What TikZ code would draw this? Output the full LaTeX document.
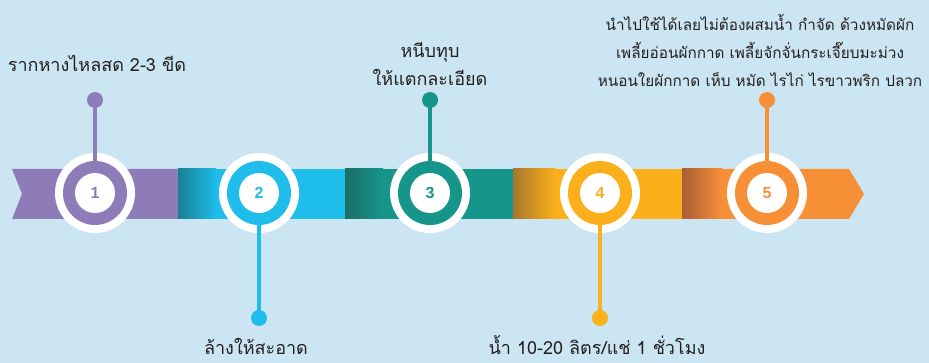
\documentclass[tikz,border=0pt]{standalone}
\usepackage{fontspec}
\newfontfamily\thaifont[Script=Thai]{Loma}
\newfontfamily\numfont{Liberation Sans}
\definecolor{bg}{HTML}{CBE6F2}
\definecolor{cpur}{HTML}{8E7CB9}
\definecolor{cblu}{HTML}{1EBDEB}
\definecolor{cblud}{HTML}{1A7F93}
\definecolor{cteal}{HTML}{16958B}
\definecolor{ctealD}{HTML}{1C6E66}
\definecolor{cgold}{HTML}{FAAF1B}
\definecolor{cgoldD}{HTML}{A8772C}
\definecolor{corg}{HTML}{F78F37}
\definecolor{corgD}{HTML}{A85E36}
\definecolor{txt}{HTML}{231F20}
\tikzset{
  lbl/.style={text=txt, align=center, font=\thaifont\fontsize{18}{28}\selectfont, inner sep=0pt},
  lblsm/.style={text=txt, align=center, font=\thaifont\fontsize{15.3}{28}\selectfont, inner sep=0pt},
  dotn/.style={circle, fill=#1, minimum size=16pt, inner sep=0pt},
  stem/.style={line width=4.5pt, draw=#1},
  numn/.style={circle, fill=white, minimum size=40pt, inner sep=0pt, text=#1, font=\numfont\bfseries\fontsize{16}{16}\selectfont},
}
\begin{document}
\begin{tikzpicture}[x=1pt,y=-1pt]
\fill[bg] (0,0) rectangle (929,363);
\useasboundingbox (0,0) rectangle (929,363);
% band
\fill[cpur] (12,169) -- (178,169) -- (178,219) -- (12,219) -- (22,194) -- cycle;
\shade[left color=cblud, right color=cblu] (178,169) rectangle (216,219);
\fill[cblu] (215.5,169) rectangle (345,219);
\shade[left color=ctealD, right color=cteal] (345,169) rectangle (383,219);
\fill[cteal] (382.5,169) rectangle (513,219);
\shade[left color=cgoldD, right color=cgold] (513,169) rectangle (555,219);
\fill[cgold] (554.5,169) rectangle (682,219);
\shade[left color=corgD, right color=corg] (682,169) rectangle (722,219);
\fill[corg] (721.5,169) -- (849,169) -- (864,194) -- (849,219) -- (721.5,219) -- cycle;
% steps
\foreach \i/\x/\col/\dy in {1/95/cpur/100, 2/259/cblu/318, 3/430/cteal/100, 4/600/cgold/318, 5/767/corg/100}{
  \fill[white] (\x,193) circle (40);
  \node[dotn=\col] (d\i) at (\x,\dy) {};
  \coordinate (m\i) at (\x,193);
  \draw[stem=\col] (d\i.center) -- (m\i);
  \fill[\col] (\x,193) circle (32);
  \node[numn=\col] (c\i) at (\x,193) {\i};
}
% labels
\node[lbl] (t1) at (97,63) {รากหางไหลสด 2-3 ขีด};
\node[lbl] (t2) at (256,346) {ล้างให้สะอาด};
\node[lbl] (t3) at (430,64) {หนีบทุบ\\ให้แตกละเอียด};
\node[lbl] (t4) at (597,345) {น้ำ 10-20 ลิตร/แช่ 1 ชั่วโมง};
\node[lblsm] (t5) at (760,50) {นำไปใช้ได้เลยไม่ต้องผสมน้ำ กำจัด ด้วงหมัดผัก\\เพลี้ยอ่อนผักกาด เพลี้ยจักจั่นกระเจี๊ยบมะม่วง\\หนอนใยผักกาด เห็บ หมัด ไรไก่ ไรขาวพริก ปลวก};
\end{tikzpicture}
\end{document}
